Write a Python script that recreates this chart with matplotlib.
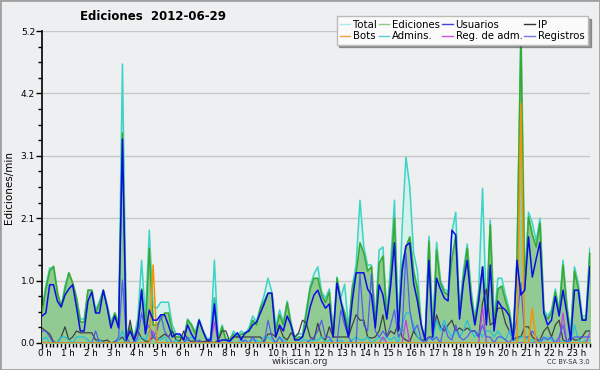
import numpy as np
import matplotlib
matplotlib.use("Agg")
import matplotlib.pyplot as plt
from matplotlib.ticker import MultipleLocator
import matplotlib.transforms as mtransforms
from matplotlib.lines import Line2D

hours = [f"{h} h" for h in range(24)]

total = [0.55, 0.95, 1.25, 1.25, 0.8, 0.6,
         0.95, 1.17, 1.0, 0.75, 0.4, 0.4,
         0.88, 0.88, 0.55, 0.7, 0.88, 0.65,
         0.35, 0.5, 0.35, 4.65, 0.15, 0.3,
         0.1, 0.4, 1.38, 0.4, 1.88, 0.6,
         0.58, 0.68, 0.68, 0.68, 0.3, 0.15,
         0.12, 0.08, 0.4, 0.32, 0.18, 0.4,
         0.22, 0.08, 0.08, 1.38, 0.05, 0.3,
         0.08, 0.05, 0.2, 0.12, 0.2, 0.15,
         0.25, 0.45, 0.35, 0.6, 0.8, 1.08,
         0.85, 0.25, 0.55, 0.35, 0.7, 0.35,
         0.08, 0.15, 0.15, 0.55, 0.95, 1.15,
         1.27, 0.85, 0.75, 0.9, 0.15, 1.1,
         0.75, 0.98, 0.25, 0.95, 1.3, 2.38,
         1.6, 1.3, 1.3, 0.35, 1.55, 1.6,
         0.45, 1.3, 2.38, 0.25, 1.9, 3.1,
         2.6, 1.5, 1.2, 0.3, 0.05, 1.78,
         0.15, 1.68, 1.05, 0.9, 0.85, 1.85,
         2.18, 0.55, 1.2, 1.65, 0.9, 0.4,
         0.9, 2.58, 0.5, 2.05, 0.35, 1.08,
         1.08, 0.8, 0.55, 0.15, 1.45, 5.2,
         0.95, 2.18, 2.0, 1.7, 2.08, 0.55,
         0.45, 0.55, 0.9, 0.55, 1.38, 0.65,
         0.15, 1.27, 1.0, 0.45, 0.45, 1.58]

ediciones = [0.5, 0.9, 1.2, 1.28, 0.85, 0.6,
             0.9, 1.17, 1.0, 0.75, 0.35, 0.35,
             0.88, 0.88, 0.5, 0.65, 0.88, 0.6,
             0.3, 0.5, 0.3, 3.5, 0.1, 0.25,
             0.05, 0.3, 0.9, 0.2, 1.58, 0.3,
             0.3, 0.4, 0.5, 0.5, 0.2, 0.1,
             0.1, 0.05, 0.38, 0.3, 0.15, 0.38,
             0.2, 0.05, 0.05, 0.75, 0.02, 0.27,
             0.05, 0.05, 0.15, 0.1, 0.15, 0.15,
             0.2, 0.38, 0.3, 0.58, 0.7, 0.83,
             0.83, 0.2, 0.47, 0.3, 0.67, 0.3,
             0.05, 0.1, 0.1, 0.5, 0.9, 1.08,
             1.08, 0.8, 0.68, 0.85, 0.1, 1.08,
             0.7, 0.5, 0.2, 0.9, 1.17, 1.67,
             1.5, 1.2, 1.27, 0.3, 1.33, 1.45,
             0.4, 1.1, 2.08, 0.2, 1.3, 1.6,
             1.77, 1.2, 0.9, 0.3, 0.05, 1.7,
             0.1, 1.55, 1.0, 0.85, 0.8, 1.4,
             1.8, 0.5, 1.1, 1.58, 0.8, 0.35,
             0.8, 1.27, 0.4, 1.97, 0.3, 0.9,
             0.95, 0.7, 0.5, 0.1, 1.4, 5.1,
             0.9, 2.1, 1.8, 1.6, 2.0, 0.5,
             0.4, 0.5, 0.85, 0.5, 1.3, 0.6,
             0.1, 1.2, 0.9, 0.4, 0.4, 1.5]

usuarios = [0.45, 0.5, 0.97, 0.97, 0.7, 0.6,
            0.8, 0.9, 0.97, 0.6, 0.2, 0.2,
            0.7, 0.85, 0.5, 0.5, 0.88, 0.6,
            0.25, 0.45, 0.25, 3.4, 0.05, 0.2,
            0.05, 0.25, 0.88, 0.15, 0.55, 0.38,
            0.38, 0.47, 0.47, 0.3, 0.1, 0.15,
            0.15, 0.05, 0.3, 0.15, 0.05, 0.38,
            0.2, 0.05, 0.05, 0.65, 0.02, 0.05,
            0.05, 0.03, 0.1, 0.17, 0.05, 0.17,
            0.2, 0.3, 0.35, 0.5, 0.65, 0.83,
            0.83, 0.1, 0.3, 0.2, 0.45, 0.3,
            0.05, 0.05, 0.1, 0.3, 0.6, 0.8,
            0.88, 0.7, 0.58, 0.65, 0.1, 1.0,
            0.7, 0.4, 0.1, 0.7, 1.17, 1.17,
            1.17, 0.9, 0.8, 0.25, 0.97, 0.8,
            0.4, 0.95, 1.67, 0.2, 1.2, 1.62,
            1.67, 1.0, 0.7, 0.3, 0.05, 1.38,
            0.1, 1.08, 0.9, 0.75, 0.7, 1.88,
            1.8, 0.4, 1.0, 1.38, 0.7, 0.3,
            0.7, 1.27, 0.3, 1.3, 0.2, 0.7,
            0.6, 0.55, 0.45, 0.05, 1.38, 0.8,
            0.88, 1.77, 1.1, 1.4, 1.68, 0.5,
            0.3, 0.38, 0.77, 0.45, 0.88, 0.5,
            0.05, 0.88, 0.88, 0.38, 0.38, 1.27]

ip = [0.25, 0.2, 0.15, 0.02, 0.0, 0.1,
      0.27, 0.05, 0.1, 0.2, 0.17, 0.17,
      0.17, 0.17, 0.05, 0.05, 0.03, 0.05,
      0.0, 0.02, 0.05, 0.1, 0.0, 0.38,
      0.03, 0.2, 0.08, 0.03, 0.03, 0.1,
      0.05, 0.1, 0.15, 0.1, 0.2, 0.05,
      0.03, 0.2, 0.05, 0.03, 0.03, 0.03,
      0.02, 0.03, 0.02, 0.0, 0.05, 0.2,
      0.2, 0.03, 0.1, 0.1, 0.1, 0.1,
      0.1, 0.1, 0.1, 0.1, 0.02, 0.15,
      0.15, 0.1, 0.27, 0.1, 0.05, 0.17,
      0.1, 0.17, 0.38, 0.33, 0.1, 0.05,
      0.33, 0.1, 0.05, 0.27, 0.1, 0.1,
      0.1, 0.1, 0.1, 0.3, 0.47, 0.38,
      0.38, 0.1, 0.08, 0.1, 0.2, 0.47,
      0.1, 0.2, 0.15, 0.33, 0.1, 0.05,
      0.02, 0.2, 0.1, 0.05, 0.05, 0.1,
      0.1, 0.47, 0.27, 0.2, 0.3, 0.38,
      0.2, 0.25, 0.2, 0.25, 0.2, 0.2,
      0.1, 0.67, 0.9, 0.3, 0.35, 0.58,
      0.58, 0.33, 0.2, 0.05, 0.1, 0.1,
      0.27, 0.27, 0.1, 0.05, 0.05, 0.2,
      0.27, 0.1, 0.3, 0.38, 0.05, 0.02,
      0.1, 0.05, 0.05, 0.1, 0.2, 0.2]

bots = [0.0] * 144
bots[29] = 1.3
bots[125] = 4.0
bots[128] = 0.58

admins = [0.05, 0.1, 0.0, 0.0, 0.0, 0.1,
          0.1, 0.05, 0.0, 0.1, 0.1, 0.1,
          0.05, 0.0, 0.0, 0.05, 0.0, 0.0,
          0.0, 0.0, 0.05, 0.2, 0.0, 0.0,
          0.0, 0.05, 0.1, 0.05, 0.2, 0.1,
          0.1, 0.05, 0.1, 0.0, 0.0, 0.05,
          0.0, 0.0, 0.05, 0.1, 0.05, 0.0,
          0.0, 0.0, 0.0, 0.75, 0.0, 0.0,
          0.0, 0.05, 0.0, 0.0, 0.05, 0.0,
          0.0, 0.05, 0.05, 0.0, 0.1, 0.1,
          0.05, 0.0, 0.1, 0.05, 0.0, 0.0,
          0.0, 0.0, 0.05, 0.05, 0.0, 0.05,
          0.05, 0.1, 0.0, 0.05, 0.0, 0.0,
          0.05, 0.0, 0.0, 0.05, 0.1, 0.05,
          0.05, 0.1, 0.0, 0.05, 0.1, 0.05,
          0.1, 0.05, 0.1, 0.0, 0.3, 0.5,
          0.5, 0.3, 0.1, 0.05, 0.0, 0.1,
          0.05, 0.38, 0.2, 0.38, 0.2, 0.1,
          0.2, 0.1, 0.2, 0.38, 0.2, 0.1,
          0.2, 0.1, 0.2, 0.2, 0.1, 0.2,
          0.1, 0.05, 0.2, 0.05, 0.05, 0.1,
          0.1, 0.05, 0.05, 0.0, 0.05, 0.05,
          0.1, 0.05, 0.0, 0.05, 0.0, 0.05,
          0.0, 0.3, 0.05, 0.0, 0.05, 0.05]

reg_adm = [0.0] * 144
reg_adm[29] = 0.2
reg_adm[45] = 0.35
reg_adm[89] = 0.1
reg_adm[95] = 0.38
reg_adm[115] = 0.6
reg_adm[136] = 0.5
reg_adm[143] = 0.17

registros = [0.2, 0.2, 0.1, 0.0, 0.0, 0.0,
             0.0, 0.0, 0.0, 0.0, 0.0, 0.0,
             0.0, 0.0, 0.2, 0.0, 0.0, 0.0,
             0.0, 0.0, 0.1, 1.05, 0.1, 0.0,
             0.0, 0.1, 0.5, 0.2, 0.3, 0.1,
             0.2, 0.47, 0.2, 0.1, 0.0, 0.0,
             0.0, 0.0, 0.1, 0.0, 0.0, 0.05,
             0.0, 0.0, 0.0, 0.6, 0.0, 0.0,
             0.0, 0.0, 0.0, 0.0, 0.0, 0.05,
             0.0, 0.1, 0.0, 0.0, 0.0, 0.38,
             0.1, 0.0, 0.1, 0.0, 0.0, 0.0,
             0.0, 0.0, 0.0, 0.0, 0.05, 0.1,
             0.2, 0.38, 0.1, 0.1, 0.0, 0.0,
             0.55, 0.3, 0.1, 0.0, 0.0, 1.15,
             0.3, 0.2, 1.15, 0.2, 0.1, 0.2,
             0.1, 0.3, 0.55, 0.1, 0.2, 1.5,
             0.55, 0.2, 0.3, 0.05, 0.0, 0.1,
             0.05, 0.1, 0.0, 0.3, 0.1, 0.05,
             0.3, 0.1, 0.05, 0.1, 0.2, 0.2,
             0.1, 0.3, 0.1, 0.1, 0.0, 0.1,
             0.1, 0.05, 0.0, 0.1, 0.4, 1.0,
             0.1, 0.1, 0.2, 0.1, 0.0, 0.1,
             0.05, 0.1, 0.0, 0.1, 0.3, 0.0,
             0.05, 0.1, 0.1, 0.1, 0.1, 0.1]

ymax = 5.2
x = np.arange(len(total)) / 6.0

BG = "#eeeff1"
fig = plt.figure(figsize=(6.0, 3.7), dpi=100, facecolor=BG)
fig.patches.append(plt.Rectangle((0, 0), 1, 1, transform=fig.transFigure,
                                 fill=False, edgecolor="#a0a0a0", linewidth=2))
ax = fig.add_axes([0.07, 0.073, 0.913, 0.843])
ax.set_facecolor(BG)

ax.fill_between(x, total, color="#d6f1ec", zorder=1)
ax.plot(x, total, color="#3dd3c6", lw=1.1, zorder=2)
ax.fill_between(x, ediciones, color="#8ec98e", alpha=0.95, zorder=3)
ax.plot(x, ediciones, color="#33aa33", lw=1.1, zorder=4)
ax.plot(x, ip, color="#404040", lw=0.9, zorder=5)
ax.plot(x, admins, color="#22c0dd", lw=0.9, zorder=5)
ax.plot(x, reg_adm, color="#c040e0", lw=0.9, zorder=5)
ax.plot(x, registros, color="#4a4aff", lw=0.9, alpha=0.85, zorder=6)
ax.plot(x, bots, color="#f0940a", lw=1.1, zorder=6)
ax.plot(x, usuarios, color="#0c0ce8", lw=1.1, zorder=7)

ax.set_xlim(0, x[-1])
ax.set_ylim(0, ymax)
yt = np.linspace(0, ymax, 6)
ax.set_yticks(yt)
ax.set_yticklabels([f"{v:.1f}" for v in yt])
ax.yaxis.set_minor_locator(MultipleLocator(ymax / 20))
ax.set_xticks(np.arange(24))
ax.set_xticklabels(hours)
ax.xaxis.set_minor_locator(MultipleLocator(1 / 6))
ax.tick_params(axis="both", which="major", length=4, width=1, direction="out", pad=1)
ax.tick_params(axis="y", which="major", labelsize=6.5)
ax.tick_params(axis="x", which="major", labelsize=6.2, pad=0.5)
ax.tick_params(axis="both", which="minor", length=3, width=1, direction="out")
offset = mtransforms.ScaledTranslation(-4 / 100, 0, fig.dpi_scale_trans)
for lab in ax.get_xticklabels():
    lab.set_horizontalalignment("left")
    lab.set_transform(lab.get_transform() + offset)
ax.grid(axis="y", which="major", color="#c8c8c8", lw=1)
ax.set_axisbelow(True)
for s in ["top", "right"]:
    ax.spines[s].set_visible(False)
ax.spines["left"].set_linewidth(1.2)
ax.spines["bottom"].set_linewidth(1.2)

ax.set_ylabel("Ediciones/min", fontsize=7.5, labelpad=5)
fig.text(153 / 600, 1 - 17 / 370, "Ediciones  2012-06-29", fontsize=8.5, fontweight="bold",
         ha="center", va="center")
fig.text(300 / 600, 1 - 362 / 370, "wikiscan.org", fontsize=6.5, ha="center", va="center", color="#333333")
fig.text(590 / 600, 1 - 362 / 370, "CC BY-SA 3.0", fontsize=4.8, ha="right", va="center", color="#333333")

def h(c):
    return Line2D([], [], color=c, lw=1)

handles = [h("#aee8e8"), h("#f0a040"), h("#88cc88"), h("#55ccdd"),
           h("#4444dd"), h("#cc55dd"), h("#333333"), h("#7777ee")]
labels = ["Total", "Bots", "Ediciones", "Admins.", "Usuarios", "Reg. de adm.", "IP", "Registros"]
leg = fig.legend(handles, labels, ncol=4, loc="upper right", bbox_to_anchor=(593 / 600, 1 - 11 / 370),
                 fontsize=7.3, frameon=True, fancybox=False, shadow=True, handlelength=1.0,
                 handletextpad=0.3, columnspacing=0.2, labelspacing=0.15, borderpad=0.35)
leg.get_frame().set_facecolor("#fafafa")
leg.get_frame().set_edgecolor("#bbbbbb")
leg.get_frame().set_alpha(1)

fig.savefig("out.png", dpi=100, facecolor=BG)
